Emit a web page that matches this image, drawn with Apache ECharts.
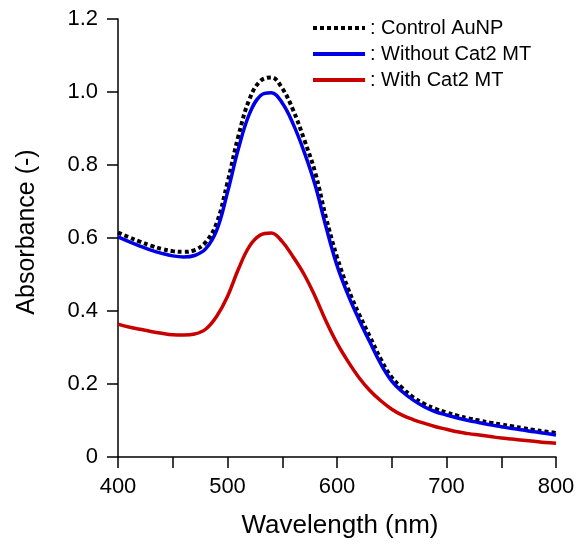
<!DOCTYPE html>
<html>
<head>
<meta charset="utf-8">
<script src="https://cdn.jsdelivr.net/npm/echarts@6/dist/echarts.min.js"></script>
<style>
  html, body { margin: 0; padding: 0; background: #fff; }
  #chart { width: 579px; height: 545px; }
</style>
</head>
<body>
<div id="chart"></div>
<script>
// wavelength (nm)
const wavelengths = [400,410,420,430,440,450,460,470,480,490,500,510,520,530,540,550,560,570,580,590,600,
                     610,620,630,640,650,660,670,680,690,700,710,720,730,740,750,760,770,780,790,800];

const controlAuNP = [0.615,0.602,0.590,0.579,0.570,0.564,0.562,0.567,0.588,0.640,0.752,0.880,0.980,1.030,1.040,1.010,0.950,0.870,0.780,0.655,0.548,
                     0.462,0.392,0.330,0.268,0.218,0.188,0.163,0.145,0.132,0.122,0.113,0.106,0.100,0.094,0.089,0.084,0.079,0.074,0.070,0.066];

const withoutCat2 = [0.603,0.590,0.578,0.567,0.558,0.551,0.548,0.552,0.570,0.620,0.725,0.845,0.940,0.990,0.998,0.970,0.912,0.836,0.745,0.630,0.525,
                     0.445,0.377,0.315,0.255,0.208,0.178,0.155,0.137,0.124,0.115,0.107,0.100,0.094,0.088,0.083,0.078,0.074,0.069,0.065,0.060];

const withCat2 = [0.364,0.356,0.350,0.344,0.339,0.335,0.334,0.337,0.350,0.385,0.440,0.515,0.577,0.608,0.614,0.590,0.548,0.500,0.440,0.372,0.312,
                  0.262,0.218,0.182,0.154,0.131,0.114,0.102,0.092,0.083,0.076,0.069,0.064,0.060,0.056,0.052,0.049,0.046,0.043,0.040,0.038];

const seriesNames = ['Control AuNP', 'Without Cat2 MT', 'With Cat2 MT'];

function pairs(vals){
    return wavelengths.map(function(w, i){ return [w, vals[i]]; });
}

const font = "'Liberation Sans', Arial, sans-serif";

let option = {
    animation: false,
    backgroundColor: '#fff',
    grid: {
        left: 118,
        right: 23,
        top: 19,
        bottom: 88
    },
    legend: {
        orient: 'vertical',
        left: 311,
        top: 17,
        padding: 0,
        itemWidth: 52,
        itemHeight: 6,
        itemGap: 4,
        formatter: ': {name}',
        itemStyle: { opacity: 0 },
        lineStyle: { width: 4 },
        textStyle: {
            fontFamily: font,
            fontSize: 20,
            color: '#000',
            lineHeight: 22
        },
        data: seriesNames
    },
    xAxis: {
        type: 'value',
        min: 400,
        max: 800,
        interval: 50,
        name: 'Wavelength (nm)',
        nameLocation: 'middle',
        nameGap: 56,
        nameTextStyle: { fontFamily: font, fontSize: 26, color: '#000', padding: [0, 0, 0, 6] },
        axisLine: { show: true, lineStyle: { color: '#000', width: 1.5 } },
        axisTick: { show: true, inside: false, length: 11, lineStyle: { color: '#000', width: 1.5 } },
        axisLabel: {
            margin: 19,
            fontFamily: font,
            fontSize: 22,
            color: '#000',
            formatter: function(v){ return v % 100 === 0 ? String(v) : ''; }
        },
        splitLine: { show: false }
    },
    yAxis: {
        type: 'value',
        min: 0,
        max: 1.2,
        interval: 0.2,
        name: 'Absorbance (-)',
        nameLocation: 'middle',
        nameGap: 78,
        nameTextStyle: { fontFamily: font, fontSize: 25, color: '#000', padding: [0, 0, 0, 12] },
        axisLine: { show: true, lineStyle: { color: '#000', width: 1.5 } },
        axisTick: { show: true, inside: false, length: 11, lineStyle: { color: '#000', width: 1.5 } },
        axisLabel: {
            margin: 20,
            fontFamily: font,
            fontSize: 22,
            color: '#000',
            formatter: function(v){ return v === 0 ? '0' : v.toFixed(1); }
        },
        splitLine: { show: false }
    },
    series: [
        {
            name: seriesNames[2],
            type: 'line',
            data: pairs(withCat2),
            smooth: 0.4,
            symbol: 'none',
            lineStyle: { color: '#c80000', width: 3.5 },
            itemStyle: { color: '#c80000' },
            z: 2
        },
        {
            name: seriesNames[0],
            type: 'line',
            data: pairs(controlAuNP),
            smooth: 0.4,
            symbol: 'none',
            lineStyle: { color: '#000', width: 4, type: [4, 3] },
            itemStyle: { color: '#000' },
            z: 3
        },
        {
            name: seriesNames[1],
            type: 'line',
            data: pairs(withoutCat2),
            smooth: 0.4,
            symbol: 'none',
            lineStyle: { color: '#0000e6', width: 3.5 },
            itemStyle: { color: '#0000e6' },
            z: 4
        }
    ]
};

let chart = echarts.init(document.getElementById('chart'));
chart.setOption(option);
</script>
</body>
</html>
